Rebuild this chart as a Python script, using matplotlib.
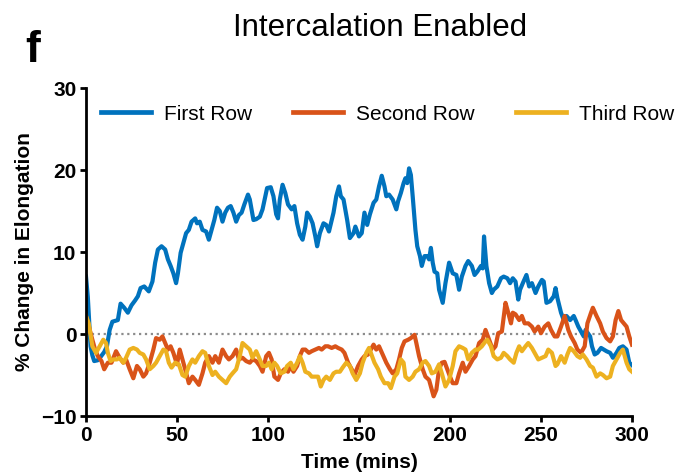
import numpy as np
import matplotlib
matplotlib.use("Agg")
import matplotlib.pyplot as plt

plt.rcParams['font.family'] = ['Liberation Sans', 'DejaVu Sans']

# percent change in elongation per row over time (mins)
t_first = [0, 1, 2.5, 3.5, 4.5, 6.5, 8, 10, 11.5, 13, 14.5, 16, 17.5, 19, 21, 23, 25, 27, 28.5, 30,
           32, 34.5, 36.5, 38, 39.5, 41.5, 43.5, 45, 46.5, 48, 49.5, 50.5, 52, 53.5, 55, 56.5, 58, 60,
           61, 62.5, 64, 66, 67.5, 69, 70.5, 72, 73.5, 75, 76.5, 78, 79.5, 81, 82.5, 84, 85.5, 87, 89,
           90, 92, 93.5, 95.5, 97, 99.5, 101.5, 103, 104.5, 105.5, 106.5, 108, 109.5, 111, 113, 114.5,
           116, 117.5, 119, 120.5, 121.5, 123, 124.5, 126, 127, 128.5, 130.5, 132, 133.5, 136, 137.5,
           139, 140, 141.5, 143.5, 145, 147, 148, 150, 151.5, 153, 154.5, 156, 158, 159.5, 161, 162.5,
           164, 165, 166.5, 168.5, 170.5, 171.5, 173, 174.5, 175.5, 176.5, 177.5, 178.5, 179.5, 181,
           182, 183.5, 184.5, 186, 187.5, 188.5, 189.5, 190.5, 191.5, 193, 194, 196, 197.5, 199.5,
           201.5, 203.5, 205, 206.5, 208.5, 210, 212, 213.5, 215, 217, 218, 218.7, 220, 221.5, 223,
           224, 226, 228, 229.5, 231.5, 233, 234.5, 236, 237.5, 238.5, 240, 242, 243.5, 245, 247,
           248.5, 250.5, 251.5, 253, 255, 257, 258, 259, 261, 262.5, 264, 266, 268, 269, 270.5, 272,
           273.5, 274.5, 277, 278, 279.5, 281, 283, 284.5, 286, 288, 289.5, 291.5, 293, 295, 297,
           298.5, 300]
first_row = [7.0, 4.5, -1.5, -2.6, -3.3, -3.2, -2.8, -2.2, -1.5, 0.5, 1.5, 1.6, 1.7, 3.7, 3.2, 2.6,
             3.5, 4.1, 4.6, 5.6, 5.8, 5.2, 6.4, 8.7, 10.3, 10.7, 10.3, 9.1, 8.3, 7.4, 6.2, 7.4, 9.9,
             11.1, 12.3, 12.7, 13.7, 14.1, 13.5, 13.7, 12.7, 12.5, 11.5, 12.7, 13.9, 15.4, 15.0, 13.7,
             14.8, 15.4, 15.6, 14.8, 13.7, 14.5, 14.8, 15.8, 17.0, 16.4, 13.9, 14.0, 14.3, 15.2, 17.8,
             17.9, 16.8, 14.6, 14.1, 16.4, 18.2, 17.2, 15.8, 15.2, 15.6, 13.5, 12.1, 11.5, 13.1, 14.8,
             14.3, 13.5, 11.9, 10.7, 12.3, 13.5, 13.3, 12.5, 14.8, 16.8, 18.0, 16.8, 16.4, 13.9, 11.7,
             12.3, 13.1, 11.9, 12.3, 14.8, 13.3, 14.6, 16.0, 16.4, 18.0, 19.3, 18.0, 16.8, 17.0, 16.4,
             15.2, 16.2, 17.2, 18.4, 19.0, 18.4, 20.2, 19.4, 16.8, 12.7, 10.7, 9.5, 8.3, 9.5, 9.5, 9.1,
             10.5, 8.7, 7.6, 7.4, 5.4, 3.8, 6.2, 8.7, 7.4, 7.2, 5.4, 7.0, 8.3, 8.9, 8.3, 7.2, 7.6, 8.3,
             8.0, 11.9, 8.3, 6.2, 5.0, 5.4, 5.8, 6.8, 7.0, 6.8, 6.2, 6.8, 6.4, 4.2, 5.4, 6.2, 7.2, 5.8,
             6.2, 5.0, 5.8, 6.6, 6.4, 3.8, 4.0, 4.6, 5.6, 4.4, 2.6, 1.7, 2.2, 1.7, 2.2, 1.7, 0.9, 0.3,
             -0.3, 0.5, -0.3, -1.5, -2.5, -2.3, -1.7, -1.9, -2.1, -2.3, -2.9, -2.3, -1.7, -1.5, -1.9,
             -3.5, -3.8]

t_second = [0, 1.5, 3, 5, 6.5, 8.5, 10, 12, 14, 16.5, 18.5, 20.5, 22, 24, 26, 28, 29.5, 31.5, 33, 35,
            37, 38.5, 40.5, 42, 43.5, 45, 46.5, 48, 50, 51.5, 52.5, 54.5, 56.5, 58.5, 60, 62, 64,
            65.5, 67.5, 69.5, 71, 73, 75, 77, 78.5, 80.5, 82.5, 84, 86, 88, 90, 91.5, 93.5, 95.5, 97,
            99, 100.5, 102, 103.5, 105.5, 107, 109, 111, 112.5, 114, 116, 117.5, 119, 120.5, 122.5,
            124, 126, 128, 129.5, 131.5, 133, 135, 137, 138.5, 140.5, 142, 144, 146, 147.5, 149.5,
            151.5, 153, 155, 156.5, 158, 159.5, 161, 163, 165, 167, 168.5, 170.5, 172, 173.5, 175,
            177, 178.5, 180.5, 181.5, 183, 185, 186.5, 188.5, 190, 191, 192.5, 194, 195.5, 197, 198.5,
            200, 201.5, 203.5, 205, 207, 208.5, 210.5, 212.5, 214, 216, 218, 219.5, 221.5, 223.5, 225,
            226.5, 228.5, 230.5, 232, 233.5, 234.5, 236, 238, 239.5, 241, 243, 245, 246.5, 248.5, 250,
            252, 254, 255.5, 257.5, 259, 261, 263, 265, 266.5, 268.5, 270, 272, 274, 275.5, 277.5,
            278.5, 280.5, 282.5, 284, 286, 288, 289.5, 291, 292.5, 294, 295.5, 297, 298.5, 300]
second_row = [2.2, 1.0, -0.3, -1.9, -2.7, -3.3, -4.3, -3.5, -3.5, -2.1, -2.9, -3.5, -3.1, -4.3, -5.4,
              -3.9, -4.3, -5.2, -4.8, -3.5, -1.9, -0.5, -0.7, -0.3, -1.1, -1.9, -1.5, -2.3, -3.7,
              -1.9, -2.7, -4.3, -6.0, -5.2, -5.6, -6.2, -4.8, -3.5, -2.7, -3.5, -2.7, -3.5, -1.9,
              -2.7, -3.1, -2.7, -1.9, -3.1, -2.9, -3.3, -3.5, -3.1, -3.3, -3.9, -4.6, -2.7, -2.3,
              -3.1, -5.2, -5.6, -4.8, -4.3, -4.6, -3.9, -4.6, -3.9, -2.7, -1.9, -1.9, -2.3, -2.1,
              -1.9, -1.7, -1.9, -1.5, -1.5, -1.7, -1.5, -1.7, -1.9, -2.3, -3.5, -4.3, -5.0, -3.9,
              -3.1, -2.7, -2.5, -1.9, -1.3, -1.9, -1.5, -2.5, -3.5, -4.3, -4.8, -4.3, -3.1, -1.7,
              -0.9, -0.7, -0.5, -0.1, -1.1, -2.7, -4.3, -5.2, -5.6, -6.8, -7.6, -6.8, -4.3, -3.5,
              -3.4, -4.3, -5.2, -6.0, -6.0, -4.8, -3.5, -4.6, -3.9, -3.1, -2.7, -1.1, -0.7, 0.5,
              -0.7, -1.9, -1.5, 0.1, 0.3, 3.8, 2.6, 1.3, 2.6, 2.4, 1.7, 2.2, 1.3, 1.3, 0.9, 0.3, 0.9,
              0.1, 0.9, 1.3, 0.5, -0.3, -0.3, 0.9, 2.2, 0.5, -0.3, -1.1, -1.9, -2.3, -1.5, 1.3, 2.6,
              3.2, 2.2, 1.3, 0.3, -0.5, -0.9, -0.3, 1.7, 2.8, 1.7, 1.3, 0.9, -0.3, -1.3]

t_third = [0, 1.5, 3.5, 5.5, 7.5, 9.5, 11, 12, 13.5, 15, 17, 18.5, 20.5, 22, 24, 26, 28, 29.5, 31.5,
           33, 35, 37, 38.5, 40.5, 42.5, 44, 45.5, 47, 49, 51, 53, 54.5, 56.5, 58.5, 60, 62, 64,
           65.5, 67.5, 69.5, 71, 73, 75, 77, 79, 80.5, 82.5, 84.5, 86, 88, 90, 91.5, 93.5, 95.5, 97,
           99, 100.5, 102, 103.5, 105, 107, 109, 110.5, 112.5, 114, 116, 117.5, 119, 120.5, 122.5,
           124, 126, 127.5, 129, 130.5, 132, 134, 136, 137.5, 139.5, 141, 143, 145, 146.5, 148.5,
           150.5, 152, 154, 155.5, 156.5, 158.5, 160.5, 162, 164, 166, 167.5, 169.5, 171, 173,
           174.5, 175.5, 177.5, 179.5, 181, 183, 185, 186.5, 188.5, 190, 192, 194, 195.5, 197.5,
           199.5, 201.5, 203, 205, 207, 208.5, 210, 212, 214, 215.5, 217.5, 219.5, 220.5, 222.5,
           224, 226, 228, 229.5, 231.5, 233, 235, 236.5, 238, 239.5, 241.5, 243, 245, 246.5, 248.5,
           250.5, 252.5, 254, 256, 258, 259, 261, 263, 264.5, 266, 268, 270, 271.5, 273, 275, 277,
           278.5, 280.5, 282.5, 284, 286, 288, 289.5, 291.5, 293.5, 295, 297, 298.5, 300]
third_row = [2.2, 1.3, -1.5, -2.3, -1.5, -0.7, -1.1, -2.3, -3.3, -3.1, -3.1, -2.9, -3.5, -2.9, -1.9,
             -1.7, -1.9, -2.3, -2.5, -3.1, -4.3, -3.9, -3.5, -2.7, -1.9, -2.1, -3.5, -4.1, -3.5, -3.7,
             -5.0, -5.2, -3.9, -3.1, -3.5, -2.7, -2.1, -2.3, -3.9, -5.0, -4.6, -5.2, -5.6, -6.0,
             -5.2, -4.8, -4.3, -2.7, -1.1, -1.5, -1.9, -2.9, -2.1, -3.1, -3.9, -3.9, -3.5, -4.3,
             -3.5, -3.9, -4.8, -4.6, -3.9, -3.5, -4.3, -3.5, -2.7, -3.5, -4.6, -4.8, -5.2, -5.2,
             -5.2, -6.4, -5.6, -5.2, -5.6, -4.8, -4.6, -4.6, -4.1, -3.5, -3.9, -4.8, -5.6, -4.8,
             -3.5, -2.3, -1.7, -2.3, -3.5, -4.3, -5.2, -6.0, -6.0, -6.6, -5.2, -4.8, -3.1, -3.5,
             -5.2, -5.6, -5.2, -4.6, -4.3, -3.5, -3.3, -3.9, -4.8, -4.6, -3.7, -4.8, -6.4, -5.6,
             -3.9, -2.1, -1.5, -1.7, -1.9, -3.1, -2.3, -1.9, -1.9, -1.5, -0.9, -0.7, -1.5, -2.7,
             -3.1, -2.9, -2.3, -2.7, -3.1, -3.5, -2.3, -1.5, -2.1, -1.5, -1.1, -1.7, -2.3, -3.1,
             -2.9, -2.7, -1.9, -2.3, -3.9, -3.7, -2.7, -3.5, -2.5, -1.7, -2.1, -2.7, -2.9, -2.5,
             -3.1, -3.9, -4.1, -5.2, -4.8, -5.0, -5.4, -5.2, -3.9, -3.1, -2.3, -1.9, -3.5, -4.3,
             -4.6]

labels = ['First Row', 'Second Row', 'Third Row']
colors = ['#0072BD', '#D95319', '#EDB120']
x_ticks = [0, 50, 100, 150, 200, 250, 300]
y_ticks = [-10, 0, 10, 20, 30]

fig = plt.figure(figsize=(6.81, 4.74), dpi=100)
ax = fig.add_axes([86 / 681, 1 - 416 / 474, 546 / 681, 328 / 474])

# zero reference
ax.plot([0, 300], [0, 0], linestyle=':', color='#8c8c8c', lw=1.6, zorder=1)

series = [(t_first, first_row), (t_second, second_row), (t_third, third_row)]
for (t, v), lab, c in zip(series, labels, colors):
    ax.plot(t, v, color=c, lw=3.0, label=lab, solid_joinstyle='round', zorder=2)

ax.set_xlim(0, 300)
ax.set_ylim(-10, 30)
ax.set_xticks(x_ticks)
ax.set_yticks(y_ticks)
for s in ['top', 'right']:
    ax.spines[s].set_visible(False)
for s in ['left', 'bottom']:
    ax.spines[s].set_linewidth(2.0)
ax.tick_params(direction='out', length=4, width=2.0, labelsize=15, pad=3)
for lbl in ax.get_xticklabels() + ax.get_yticklabels():
    lbl.set_fontweight('bold')

ax.set_xlabel('Time (mins)', fontsize=15, fontweight='bold', labelpad=6)
ax.set_ylabel('% Change in Elongation', fontsize=15, fontweight='bold', labelpad=5)

fig.text(380 / 681, 1 - 28 / 474, 'Intercalation Enabled', fontsize=22.5,
         ha='center', va='center')
fig.text(33 / 681, 1 - 51 / 474, 'f', fontsize=32, fontweight='bold',
         ha='center', va='center')

leg = ax.legend(loc='center left', bbox_to_anchor=(101 / 681, 1 - 114 / 474),
                bbox_transform=fig.transFigure, ncol=3, frameon=False,
                fontsize=15, handlelength=2.4, handletextpad=0.6,
                columnspacing=2.0, borderpad=0, borderaxespad=0)
for line in leg.get_lines():
    line.set_linewidth(3.4)

fig.savefig('out.png', dpi=100)
